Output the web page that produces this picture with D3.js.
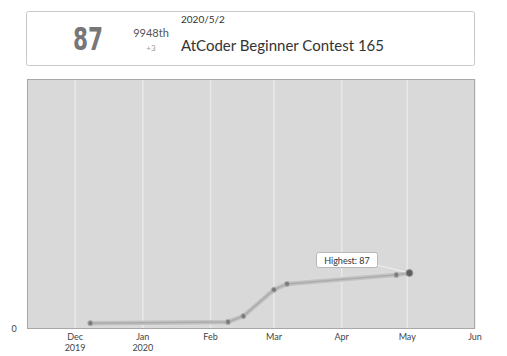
<!DOCTYPE html>
<html>
<head>
<meta charset="utf-8">
<script src="https://cdn.jsdelivr.net/npm/d3@7"></script>
<style>
  body { margin: 0; background: #fff; font-family: Lato, "Open Sans", sans-serif; }
  svg { display: block; }
</style>
</head>
<body>
<div id="chart"></div>
<script>
// Contest data
const contestDates = ["2019-12-08", "2020-02-09", "2020-02-16", "2020-03-01", "2020-03-07", "2020-04-26", "2020-05-02"];
const ratings = [9, 11, 20, 61, 70, 84, 87];
const monthTicks = ["2019-12-01", "2020-01-01", "2020-02-01", "2020-03-01", "2020-04-01", "2020-05-01", "2020-06-01"];
const monthLabels = [["Dec", "2019"], ["Jan", "2020"], ["Feb"], ["Mar"], ["Apr"], ["May"], ["Jun"]];
const yTicks = [0];

const parse = d3.timeParse("%Y-%m-%d");
const data = contestDates.map((d, i) => ({ date: parse(d), rating: ratings[i] }));

const fullWidth = 507, fullHeight = 356;
const plot = { left: 27, right: 475, top: 79, bottom: 329 };

const svg = d3.select("#chart")
    .append("svg")
    .attr("width", fullWidth)
    .attr("height", fullHeight);

// Header box with the latest contest
const head = svg.append("g");
head.append("rect")
    .attr("x", 26.5).attr("y", 11.5)
    .attr("width", 448).attr("height", 54)
    .attr("rx", 2)
    .attr("fill", "#fff")
    .attr("stroke", "#c8c8c8");

head.append("text")
    .attr("transform", "translate(88,50) scale(0.75,1)")
    .attr("text-anchor", "middle")
    .style("font-family", "'DejaVu Sans Condensed', 'Liberation Sans', sans-serif")
    .style("font-weight", "bold")
    .style("font-size", "32px")
    .attr("fill", "#777")
    .text("87");

head.append("text")
    .attr("x", 151).attr("y", 37)
    .attr("text-anchor", "middle")
    .style("font-size", "11px")
    .attr("fill", "#555")
    .text("9948th");

head.append("text")
    .attr("x", 151).attr("y", 51)
    .attr("text-anchor", "middle")
    .style("font-size", "8px")
    .attr("fill", "#999")
    .text("+3");

head.append("text")
    .attr("x", 181).attr("y", 23)
    .style("font-size", "10px")
    .attr("fill", "#333")
    .text("2020/5/2");

head.append("text")
    .attr("x", 181).attr("y", 51)
    .style("font-size", "15px")
    .attr("fill", "#333")
    .text("AtCoder Beginner Contest 165");

// Scales
const x = d3.scaleTime()
    .domain([parse("2019-11-09"), parse("2020-06-01")])
    .range([plot.left, plot.right]);

const y = d3.scaleLinear()
    .domain([0, 388])
    .range([plot.bottom, plot.top]);

// Plot background
svg.append("rect")
    .attr("x", plot.left).attr("y", plot.top)
    .attr("width", plot.right - plot.left)
    .attr("height", plot.bottom - plot.top)
    .attr("fill", "#d9d9d9");

// Vertical grid lines
svg.append("g")
    .selectAll("line")
    .data(monthTicks)
    .join("line")
    .attr("x1", d => x(parse(d))).attr("x2", d => x(parse(d)))
    .attr("y1", plot.top).attr("y2", plot.bottom)
    .attr("stroke", "#e9e9e9")
    .attr("stroke-width", 1.5);

// Border
svg.append("rect")
    .attr("x", plot.left + 0.5).attr("y", plot.top + 0.5)
    .attr("width", plot.right - plot.left - 1)
    .attr("height", plot.bottom - plot.top - 1)
    .attr("fill", "none")
    .attr("stroke", "#a8a8a8");

// X axis labels
const xLab = svg.append("g")
    .selectAll("text")
    .data(monthTicks)
    .join("text")
    .attr("x", d => x(parse(d)))
    .attr("y", 340)
    .attr("text-anchor", "middle")
    .style("font-size", "9px")
    .attr("fill", "#444");
xLab.selectAll("tspan")
    .data((d, i) => monthLabels[i])
    .join("tspan")
    .attr("x", function() { return d3.select(this.parentNode).attr("x"); })
    .attr("dy", (d, i) => i === 0 ? 0 : 11)
    .text(d => d);

// Y axis labels
svg.append("g")
    .selectAll("text")
    .data(yTicks)
    .join("text")
    .attr("x", 14)
    .attr("y", d => y(d) + 3)
    .attr("text-anchor", "middle")
    .style("font-size", "9px")
    .attr("fill", "#444")
    .text(d => d);

// Rating line
const line = d3.line()
    .x(d => x(d.date))
    .y(d => y(d.rating));

svg.append("path")
    .datum(data)
    .attr("d", line)
    .attr("fill", "none")
    .attr("stroke", "#c2c2c2")
    .attr("stroke-width", 4.5)
    .attr("stroke-linejoin", "round");

svg.append("path")
    .datum(data)
    .attr("d", line)
    .attr("fill", "none")
    .attr("stroke", "#ababab")
    .attr("stroke-width", 1.5);

// Points
svg.append("g")
    .selectAll("circle")
    .data(data.slice(0, -1))
    .join("circle")
    .attr("cx", d => x(d.date))
    .attr("cy", d => y(d.rating))
    .attr("r", 2.6)
    .attr("fill", "#7b7b7b")
    .attr("stroke", "#b5b5b5")
    .attr("stroke-width", 1);

// Highest point and label
const best = data[d3.maxIndex(data, d => d.rating)];
const bx = x(best.date), by = y(best.rating);
const lx = 347, ly = 261;

svg.append("line")
    .attr("x1", lx + 30).attr("y1", ly + 4)
    .attr("x2", bx).attr("y2", by)
    .attr("stroke", "#f2f2f2")
    .attr("stroke-width", 1);

svg.append("circle")
    .attr("cx", bx).attr("cy", by)
    .attr("r", 3.5)
    .attr("fill", "#5e5e5e")
    .attr("stroke", "#9a9a9a")
    .attr("stroke-width", 1);

svg.append("rect")
    .attr("x", lx - 30.5).attr("y", ly - 8.5)
    .attr("width", 61).attr("height", 15)
    .attr("rx", 2)
    .attr("fill", "#fff")
    .attr("stroke", "#b8b8b8");

svg.append("text")
    .attr("x", lx).attr("y", ly + 3)
    .attr("text-anchor", "middle")
    .style("font-size", "9px")
    .attr("fill", "#333")
    .text("Highest: " + best.rating);
</script>
</body>
</html>
